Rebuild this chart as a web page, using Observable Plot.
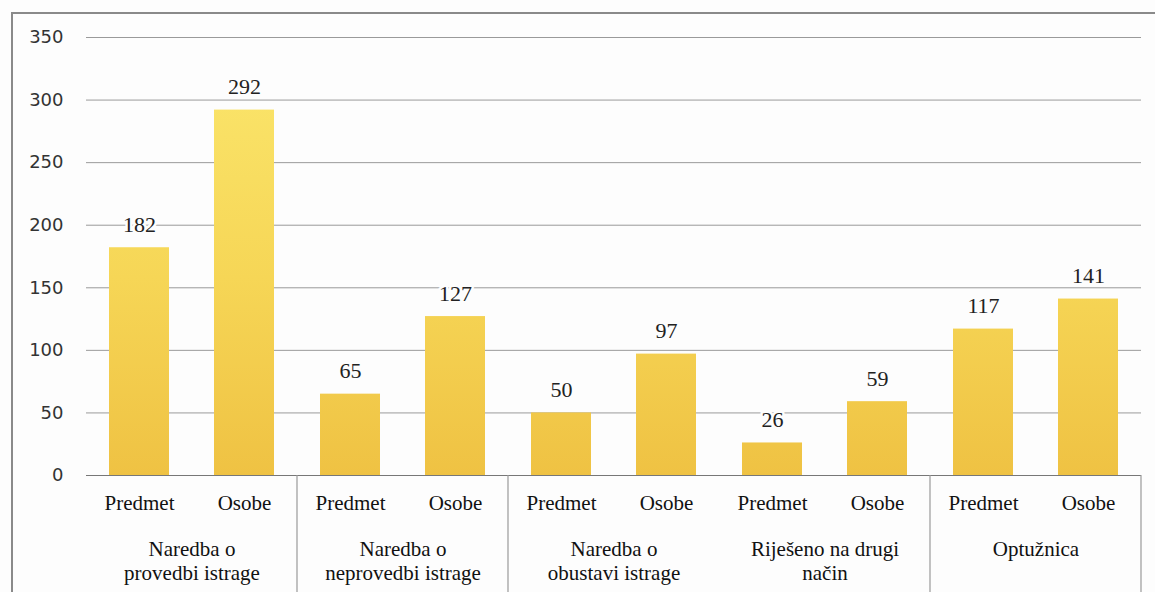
<!DOCTYPE html>
<html><head><meta charset="utf-8">
<script src="https://cdn.jsdelivr.net/npm/d3@7"></script>
<script src="https://cdn.jsdelivr.net/npm/@observablehq/plot@0.6"></script>
<style>
body{margin:0;background:#fff;}
#wrap{position:relative;width:1155px;height:592px;overflow:hidden;background:#fdfdfd;}
#frame{position:absolute;left:11px;top:12px;width:1200px;height:700px;border-left:2px solid #8a8a8a;border-top:2px solid #8a8a8a;}
#chart{position:absolute;left:0;top:0;}
</style></head><body>
<div id="wrap"><div id="frame"></div><div id="chart"></div></div>
<script>
const groups = ["Naredba o\nprovedbi istrage", "Naredba o\nneprovedbi istrage", "Naredba o\nobustavi istrage", "Riješeno na drugi\nnačin", "Optužnica"];
const subcategories = ["Predmet", "Osobe"];
const predmet = [182, 65, 50, 26, 117];
const osobe = [292, 127, 97, 59, 141];
const yTicks = [0, 50, 100, 150, 200, 250, 300, 350];
const separatorsAfter = [0, 1, 3, 4]; // group indices followed by a divider line

const data = groups.flatMap((g, i) => [
  {group: g, sub: "Predmet", value: predmet[i]},
  {group: g, sub: "Osobe", value: osobe[i]}
]);

const SERIF = "Liberation Serif, DejaVu Serif, serif";
const SANS = "DejaVu Sans, sans-serif";

const chart = Plot.plot({
  width: 1155, height: 592,
  marginLeft: 86, marginRight: 14, marginTop: 37, marginBottom: 117,
  style: {background: "transparent", overflow: "visible"},
  fx: {domain: groups, padding: 0, label: null},
  x: {domain: subcategories, paddingInner: 0.43, paddingOuter: 0.215, label: null},
  y: {domain: [0, 350], label: null},
  marks: [
    Plot.gridY(yTicks, {stroke: "#9a9a9a", strokeOpacity: 1, strokeWidth: 1}),
    Plot.axisY(yTicks, {tickSize: 0, tickPadding: 23, fontSize: 18, fill: "#333", label: null, fontFamily: SANS}),
    Plot.barY(data, {fx: "group", x: "sub", y: "value", fill: "url(#barGrad)"}),
    Plot.ruleY([0], {stroke: "#777"}),
    Plot.text(data, {fx: "group", x: "sub", y: "value", text: "value", lineAnchor: "bottom", dy: -16, fontSize: 22, fill: "#222", stroke: "#fdfdfd", strokeWidth: 5, fontFamily: SERIF}),
    Plot.axisX({anchor: "bottom", tickSize: 0, tickPadding: 20, fontSize: 21, fill: "#111", label: null, fontFamily: SERIF}),
    Plot.axisFx({anchor: "bottom", tickSize: 0, tickPadding: 63, fontSize: 21, lineHeight: 1.15, fill: "#111", label: null, fontFamily: SERIF})
  ]
});

const svg = d3.select(chart);
// enforce fonts with inline styles on every text node
svg.selectAll("text").each(function() {
  const g = this.closest("g[font-family]");
  const fam = g ? g.getAttribute("font-family") : SERIF;
  this.style.fontFamily = fam;
});

const yS = chart.scale("y");
const fxS = chart.scale("fx");
const defs = svg.insert("defs", ":first-child");
const lg = defs.append("linearGradient")
  .attr("id", "barGrad")
  .attr("gradientUnits", "userSpaceOnUse")
  .attr("x1", 0).attr("x2", 0)
  .attr("y1", yS.apply(350)).attr("y2", yS.apply(0));
lg.append("stop").attr("offset", "0%").attr("stop-color", "#fbe76e");
lg.append("stop").attr("offset", "55%").attr("stop-color", "#f6d656");
lg.append("stop").attr("offset", "100%").attr("stop-color", "#efc243");

const H = +svg.attr("height");
separatorsAfter.forEach(i => {
  const xPos = fxS.apply(groups[i]) + fxS.bandwidth;
  svg.append("line")
    .attr("x1", xPos).attr("x2", xPos)
    .attr("y1", yS.apply(0)).attr("y2", H)
    .attr("stroke", "#9a9a9a").attr("stroke-width", 1.2);
});

document.getElementById("chart").append(chart);
</script>
</body></html>
